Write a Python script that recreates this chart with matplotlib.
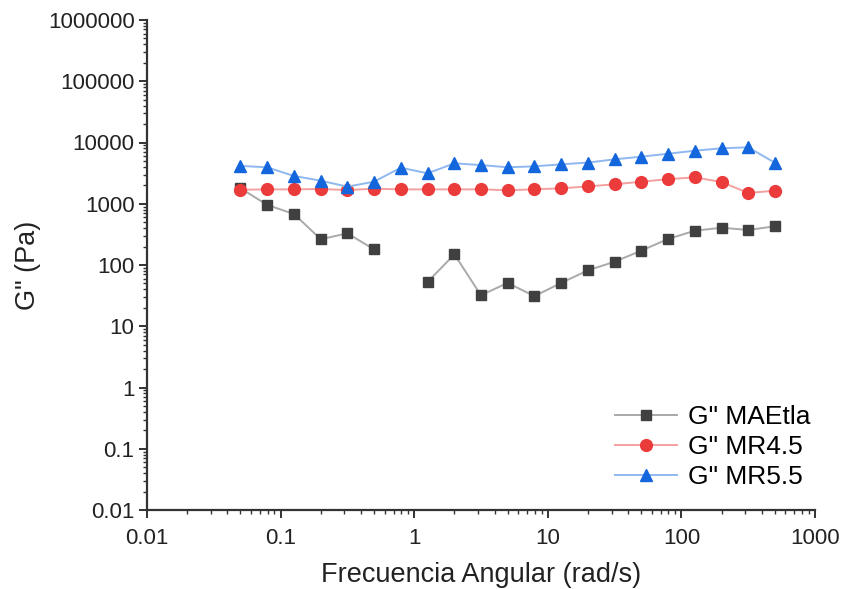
import numpy as np
import matplotlib
matplotlib.use("Agg")
import matplotlib.pyplot as plt
from matplotlib.ticker import LogLocator, NullFormatter, FixedLocator, FixedFormatter

plt.rcParams['font.family'] = ['Liberation Sans', 'DejaVu Sans']

# Data
freq = [0.05, 0.0794, 0.126, 0.2, 0.316, 0.5, 0.794, 1.26, 2.0, 3.16, 5.0,
        7.94, 12.6, 20.0, 31.6, 50.0, 79.4, 126.0, 200.0, 316.0, 500.0]
maetla = [1800, 955, 680, 263, 329, 180, np.nan, 53, 149, 32, 51,
          31, 51, 82, 113, 171, 266, 363, 406, 373, 428]
mr45 = [1690, 1718, 1718, 1740, 1676, 1760, 1718, 1718, 1718, 1718, 1660,
        1720, 1786, 1920, 2077, 2290, 2520, 2700, 2260, 1500, 1633]
mr55 = [4150, 3930, 2840, 2380, 1900, 2290, 3880, 3140, 4570, 4280, 3940,
        4080, 4400, 4700, 5310, 5870, 6550, 7350, 8040, 8350, 4680]
series_labels = ['G" MAEtla', 'G" MR4.5', 'G" MR5.5']
x_ticks = [0.01, 0.1, 1, 10, 100, 1000]
x_ticklabels = ['0.01', '0.1', '1', '10', '100', '1000']
y_ticks = [0.01, 0.1, 1, 10, 100, 1000, 10000, 100000, 1000000]
y_ticklabels = ['0.01', '0.1', '1', '10', '100', '1000', '10000', '100000', '1000000']

fig = plt.figure(figsize=(8.44, 5.89), dpi=100)
ax = fig.add_axes([147/844, 1-510/589, (815-147)/844, (510-20)/589])

ax.plot(freq, maetla, color='#a9a9a9', lw=1.4, marker='s', ms=7.5,
        mfc='#404040', mec='#404040', label=series_labels[0], zorder=3)
ax.plot(freq, mr45, color='#f5a0a0', lw=1.4, marker='o', ms=8.5,
        mfc='#ec3b3b', mec='#ec3b3b', label=series_labels[1], zorder=4)
ax.plot(freq, mr55, color='#8fb8f0', lw=1.4, marker='^', ms=9,
        mfc='#1466dc', mec='#1466dc', label=series_labels[2], zorder=5)

ax.set_xscale('log')
ax.set_yscale('log')
ax.set_xlim(0.01, 1000)
ax.set_ylim(0.01, 1000000)

ax.xaxis.set_major_locator(FixedLocator(x_ticks))
ax.xaxis.set_major_formatter(FixedFormatter(x_ticklabels))
ax.yaxis.set_major_locator(FixedLocator(y_ticks))
ax.yaxis.set_major_formatter(FixedFormatter(y_ticklabels))
ax.xaxis.set_minor_locator(LogLocator(base=10, subs=np.arange(2, 10), numticks=20))
ax.yaxis.set_minor_locator(LogLocator(base=10, subs=np.arange(2, 10), numticks=20))
ax.xaxis.set_minor_formatter(NullFormatter())
ax.yaxis.set_minor_formatter(NullFormatter())

for s in ['top', 'right']:
    ax.spines[s].set_visible(False)
for s in ['left', 'bottom']:
    ax.spines[s].set_linewidth(1.6)
    ax.spines[s].set_color('#333333')

ax.tick_params(which='major', direction='out', length=6, width=1.4,
               colors='#333333', labelsize=16, labelcolor='#222222')
ax.tick_params(axis='x', which='major', pad=7)
ax.tick_params(axis='y', which='major', pad=3)
ax.tick_params(which='minor', direction='out', length=3, width=1.0, colors='#333333')

ax.set_xlabel('Frecuencia Angular (rad/s)', fontsize=19.5, color='#222222', labelpad=9)
ax.set_ylabel('G" (Pa)', fontsize=19.5, color='#222222', labelpad=5)

leg = ax.legend(loc='center left', bbox_to_anchor=(615/844, 1-447/589),
                bbox_transform=fig.transFigure, frameon=False, fontsize=19,
                handlelength=2.35, handletextpad=0.4, labelspacing=0.22,
                borderpad=0, borderaxespad=0)

fig.savefig('out.png', dpi=100)
